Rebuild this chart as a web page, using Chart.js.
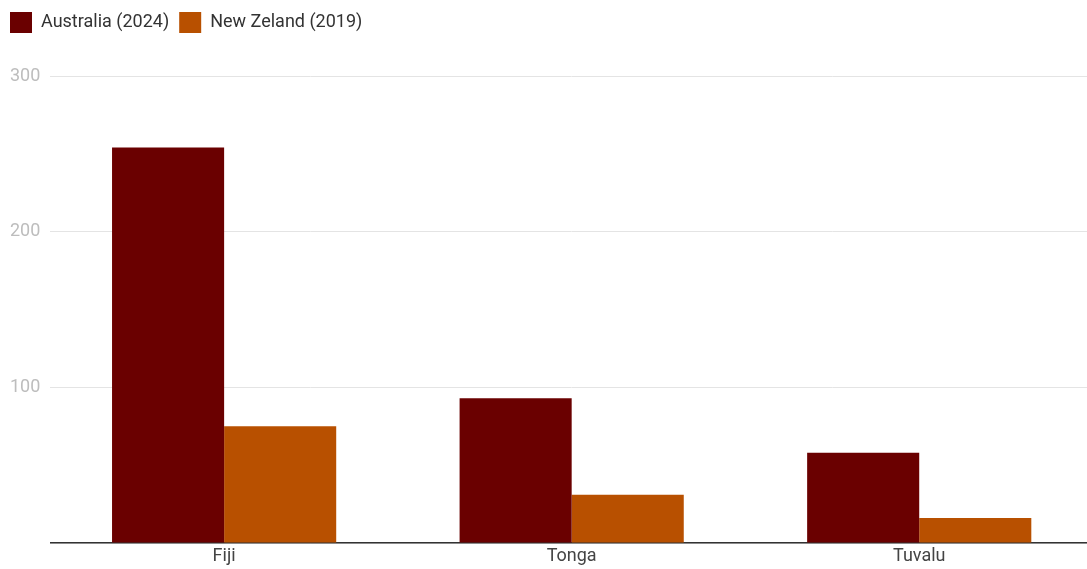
<!DOCTYPE html>
<html>
<head>
<meta charset="utf-8">
<script src="https://cdn.jsdelivr.net/npm/chart.js@4"></script>
<style>
  html, body { margin: 0; padding: 0; background: #fff; overflow: hidden; }
  #wrap { width: 1093px; height: 569px; position: relative; }
</style>
</head>
<body>
<div id="wrap"><canvas id="bars"></canvas></div>
<script>
const countries = ["Fiji", "Tonga", "Tuvalu"];
const australia2024 = [254, 93, 58];
const newZeland2019 = [75, 31, 16];
const yTicks = [0, 100, 200, 300];

Chart.defaults.font.family = "Roboto, 'Noto Sans', sans-serif";

// leave some room between the legend and the plot
const legendGap = {
  id: "legendGap",
  beforeInit(chart) {
    const fit = chart.legend.fit;
    chart.legend.fit = function () {
      fit.bind(chart.legend)();
      this.height += 33;
    };
  }
};

new Chart("bars", {
  type: "bar",
  data: {
    labels: countries,
    datasets: [{
      label: "Australia (2024)",
      backgroundColor: "#6a0000",
      data: australia2024
    }, {
      label: "New Zeland (2019)",
      backgroundColor: "#b85000",
      data: newZeland2019
    }]
  },
  options: {
    responsive: true,
    maintainAspectRatio: false,
    animation: false,
    layout: {
      padding: { top: 2, left: 0, right: 0, bottom: 0 }
    },
    datasets: {
      bar: { barPercentage: 1, categoryPercentage: 0.645 }
    },
    plugins: {
      legend: {
        position: 'top',
        align: 'start',
        labels: {
          boxWidth: 22,
          boxHeight: 21,
          padding: 10,
          color: "#333",
          font: { size: 18 }
        }
      },
      tooltip: { enabled: false }
    },
    scales: {
      x: {
        grid: { display: false, drawTicks: false },
        border: { display: true, color: "#333", width: 1.5 },
        ticks: { color: "#444", font: { size: 18, lineHeight: 1 }, padding: 4 }
      },
      y: {
        min: 0,
        max: 300,
        afterBuildTicks: (axis) => { axis.ticks = yTicks.map(v => ({ value: v })); },
        grid: { color: "#e4e4e4", drawTicks: false },
        border: { display: false },
        ticks: {
          color: "#bdbdbd",
          font: { size: 18 },
          padding: 10,
          callback: (v) => v === 0 ? "" : v
        }
      }
    }
  },
  plugins: [legendGap]
});
</script>
</body>
</html>
